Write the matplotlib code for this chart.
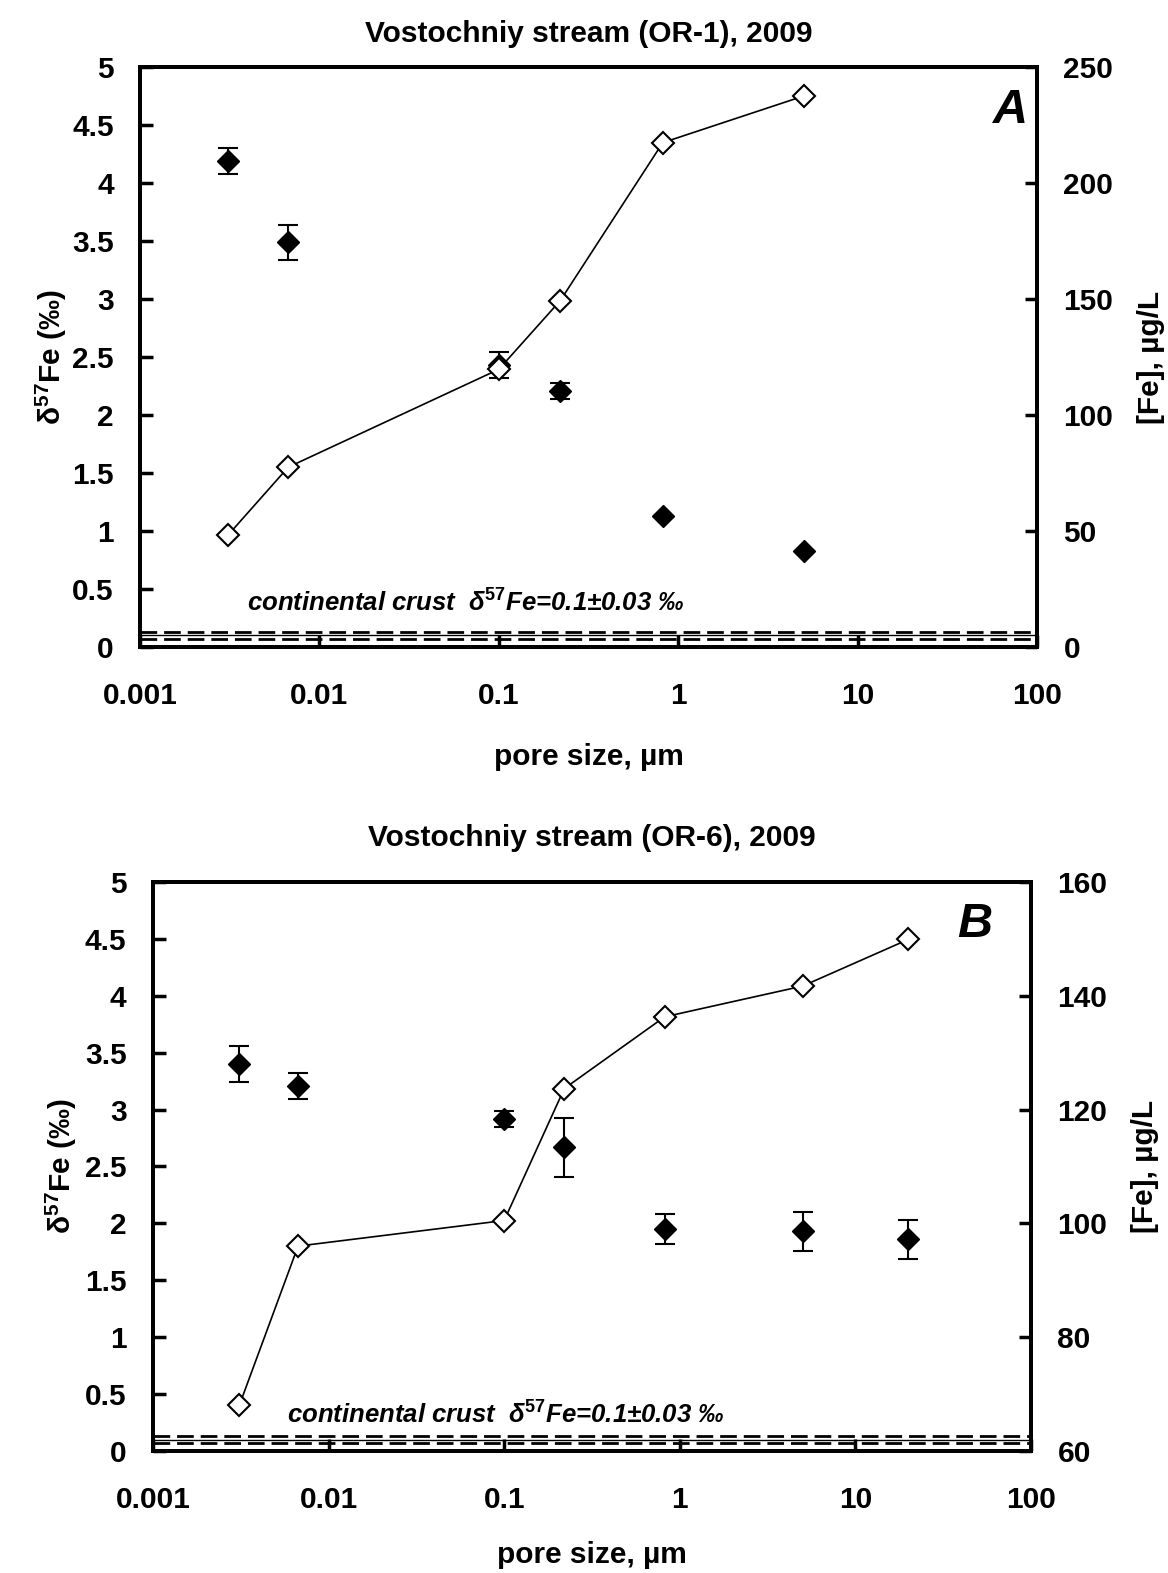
import matplotlib
matplotlib.use("Agg")
import matplotlib.pyplot as plt
from matplotlib.ticker import FixedLocator, NullLocator

plt.rcParams['font.family'] = ['Liberation Sans', 'DejaVu Sans']
plt.rcParams['font.weight'] = 'bold'
plt.rcParams['mathtext.fontset'] = 'custom'
plt.rcParams['mathtext.rm'] = 'Liberation Sans:bold'
plt.rcParams['mathtext.bf'] = 'Liberation Sans:bold'
plt.rcParams['mathtext.it'] = 'Liberation Sans:italic:bold'

# panel A: Vostochniy stream (OR-1), 2009
pore_a = [0.0031, 0.0067, 0.1, 0.22, 0.82, 5]
d57_a = [4.19, 3.49, 2.43, 2.21, 1.13, 0.83]
d57_err_a = [0.11, 0.15, 0.11, 0.07, 0.0, 0.0]
fe_a = [48.3, 77.5, 119.7, 149.3, 217.4, 237.5]

# panel B: Vostochniy stream (OR-6), 2009
pore_b = [0.0031, 0.0067, 0.1, 0.22, 0.82, 5, 20]
d57_b = [3.40, 3.21, 2.92, 2.67, 1.95, 1.93, 1.86]
d57_err_b = [0.155, 0.115, 0.07, 0.26, 0.13, 0.17, 0.17]
fe_b = [68.0, 96.0, 100.5, 123.7, 136.3, 141.7, 149.9]

crust = 0.1
crust_err = 0.03
crust_text = r'continental crust  δ$^{\mathit{57}}$Fe=0.1±0.03 ‰'

FS = 21.5

fig = plt.figure(figsize=(11.68, 15.73), dpi=100)


def panel(rect, pore, d57, d57_err, fe, fe_lim, fe_ticks, title, title_pad,
          letter, letter_xy, text_xy, ylabpad, xlabpad):
    ax = fig.add_axes(rect)
    ax.set_xscale('log')
    ax.set_xlim(0.001, 100)
    ax.set_ylim(0, 5)

    # continental crust band
    ax.axhline(crust + crust_err, color='black', lw=2, ls=(0, (6, 2.5)))
    ax.axhline(crust, color='black', lw=1)
    ax.axhline(crust - crust_err, color='black', lw=2, ls=(0, (6, 2.5)))

    ax.errorbar(pore, d57, yerr=d57_err, fmt='D', color='black', ms=11.5,
                ecolor='black', elinewidth=1.5, capsize=7.5, capthick=1.5,
                zorder=3)

    ax2 = ax.twinx()
    ax2.plot(pore, fe, '-D', color='black', lw=1.2, ms=11, mfc='white',
             mec='black', mew=1.5)
    ax2.set_ylim(*fe_lim)
    ax2.yaxis.set_major_locator(FixedLocator(fe_ticks))

    ax.yaxis.set_major_locator(FixedLocator([0, 0.5, 1, 1.5, 2, 2.5, 3, 3.5, 4, 4.5, 5]))
    ax.set_yticklabels(['0', '0.5', '1', '1.5', '2', '2.5', '3', '3.5', '4', '4.5', '5'])
    ax.xaxis.set_major_locator(FixedLocator([0.001, 0.01, 0.1, 1, 10, 100]))
    ax.set_xticklabels(['0.001', '0.01', '0.1', '1', '10', '100'])
    ax.xaxis.set_minor_locator(NullLocator())

    for a in (ax, ax2):
        for s in a.spines.values():
            s.set_linewidth(2.8)
        a.tick_params(which='major', direction='in', length=9, width=2.5,
                      labelsize=FS, pad=19)
    ax.tick_params(axis='x', pad=25)
    ax2.set_yticklabels([str(t) for t in fe_ticks])

    ax.set_xlabel('pore size, µm', fontsize=FS, fontweight='bold', labelpad=xlabpad)
    ax.set_ylabel(r'δ$^{\mathbf{57}}$Fe (‰)', fontsize=FS, fontweight='bold', labelpad=ylabpad)
    ax2.set_ylabel('[Fe], µg/L', fontsize=FS, fontweight='bold', labelpad=17)
    ax.set_title(title, fontsize=FS, fontweight='bold', pad=title_pad)

    ax2.text(letter_xy[0], letter_xy[1], letter, transform=ax2.transAxes,
             fontsize=35, fontweight='bold', fontstyle='italic',
             ha='center', va='center')
    ax.text(text_xy[0], text_xy[1], crust_text, transform=ax.transAxes,
            fontsize=18.5, fontweight='bold', fontstyle='italic',
            ha='left', va='center')
    return ax, ax2


panel([0.1199, 0.5887, 0.768, 0.3687], pore_a, d57_a, d57_err_a, fe_a,
      (0, 250), [0, 50, 100, 150, 200, 250], 'Vostochniy stream (OR-1), 2009', 18,
      'A', (0.97, 0.925), (0.119, 0.076), 2, 24)
panel([0.131, 0.0776, 0.7517, 0.3617], pore_b, d57_b, d57_err_b, fe_b,
      (60, 160), [60, 80, 100, 120, 140, 160], 'Vostochniy stream (OR-6), 2009', 26,
      'B', (0.936, 0.925), (0.153, 0.063), 4, 20)

fig.savefig('out.png', dpi=100)
